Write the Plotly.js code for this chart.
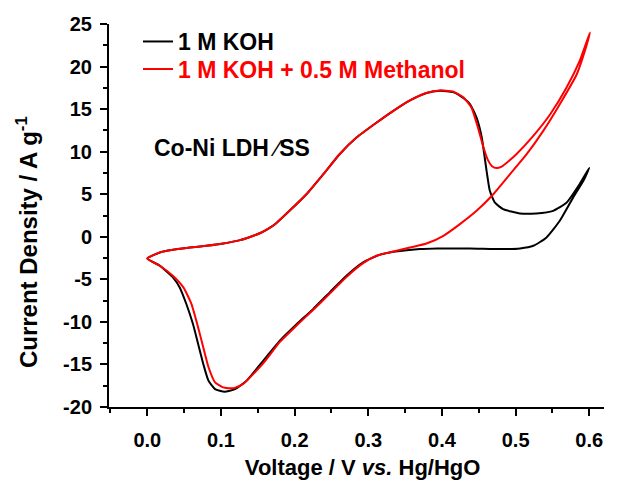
<!DOCTYPE html>
<html>
<head>
<meta charset="utf-8">
<script src="https://cdn.plot.ly/plotly-3.0.1.min.js"></script>
<style>
  html, body { margin: 0; padding: 0; background: #fff; overflow: hidden; }
  #chart { width: 622px; height: 480px; }
</style>
</head>
<body>
<div id="chart"></div>
<script>
// ---- Data ----
const seriesNames = ["1 M KOH", "1 M KOH + 0.5 M Methanol"];

// 1 M KOH : anodic sweep 0 -> 0.6 V, then cathodic sweep back to 0 V
const kohVoltage = [
  0.000, 0.017, 0.035, 0.058, 0.080, 0.103, 0.126, 0.144, 0.155, 0.165,
  0.175, 0.193, 0.216, 0.239, 0.261, 0.284, 0.311, 0.334, 0.356, 0.379,
  0.397, 0.415, 0.429, 0.438, 0.447, 0.454, 0.4606, 0.465, 0.472, 0.483,
  0.506, 0.528, 0.551, 0.569, 0.587, 0.600,
  0.592, 0.578, 0.560, 0.542, 0.524, 0.506, 0.483, 0.438, 0.393, 0.370,
  0.340, 0.329, 0.316, 0.293, 0.270, 0.248, 0.225, 0.203, 0.180, 0.157,
  0.135, 0.119, 0.105, 0.092, 0.083, 0.076, 0.069, 0.062, 0.053, 0.044,
  0.035, 0.017, 0.000
];
const kohCurrent = [
  -2.55, -1.84, -1.53, -1.26, -1.06, -0.79, -0.39, 0.12, 0.50, 0.98,
  1.60, 3.05, 5.00, 7.36, 9.70, 11.66, 13.40, 14.80, 16.00, 16.90,
  17.15, 17.00, 16.30, 15.60, 14.00, 11.70, 7.75, 5.40, 4.00, 3.25,
  2.74, 2.74, 3.05, 4.00, 6.20, 8.10,
  6.57, 4.60, 1.88, -0.08, -1.06, -1.37, -1.45, -1.37, -1.37, -1.45,
  -1.70, -1.84, -2.10, -3.00, -4.60, -6.50, -8.50, -10.25, -12.20, -14.60,
  -16.90, -17.90, -18.20, -17.90, -16.90, -14.95, -12.60, -10.25, -7.90, -5.95,
  -4.80, -3.40, -2.55
];

// 1 M KOH + 0.5 M Methanol
const meohVoltage = [
  0.000, 0.017, 0.035, 0.058, 0.080, 0.103, 0.126, 0.144, 0.155, 0.165,
  0.175, 0.193, 0.216, 0.239, 0.261, 0.284, 0.311, 0.334, 0.356, 0.379,
  0.397, 0.415, 0.429, 0.440, 0.449, 0.456, 0.462, 0.468, 0.474, 0.481,
  0.490, 0.501, 0.524, 0.547, 0.569, 0.587, 0.601,
  0.596, 0.583, 0.560, 0.5375, 0.515, 0.4925, 0.4697, 0.447, 0.4244, 0.402,
  0.379, 0.3566, 0.334, 0.311, 0.293, 0.270, 0.248, 0.225, 0.203, 0.180,
  0.157, 0.130, 0.117, 0.103, 0.092, 0.083, 0.076, 0.069, 0.060, 0.049,
  0.035, 0.017, 0.000
];
const meohCurrent = [
  -2.55, -1.84, -1.53, -1.26, -1.06, -0.79, -0.39, 0.12, 0.50, 0.98,
  1.60, 3.05, 5.00, 7.36, 9.70, 11.66, 13.40, 14.80, 16.00, 16.90,
  17.20, 17.06, 16.40, 15.20, 12.80, 10.60, 9.10, 8.30, 8.07, 8.25,
  8.85, 9.70, 11.86, 14.40, 17.50, 20.66, 24.00,
  22.40, 19.10, 15.58, 12.44, 9.70, 7.36, 5.00, 3.05, 1.49, 0.12,
  -0.79, -1.26, -1.73, -2.23, -3.10, -4.75, -6.65, -8.60, -10.40, -12.35,
  -14.90, -17.30, -17.80, -17.70, -17.10, -15.30, -13.00, -10.65, -7.90, -5.95,
  -4.60, -3.40, -2.55
];

const xTickValues = [0.0, 0.1, 0.2, 0.3, 0.4, 0.5, 0.6];
const xTickLabels = ["0.0", "0.1", "0.2", "0.3", "0.4", "0.5", "0.6"];
const yTickValues = [-20, -15, -10, -5, 0, 5, 10, 15, 20, 25];
const yTickLabels = ["-20", "-15", "-10", "-5", "0", "5", "10", "15", "20", "25"];

// ---- Styles ----
const FAM = "Liberation Sans, Arial, Helvetica, sans-serif";
const colors = ["#000000", "#ff0000"];

const traces = [
  {
    x: kohVoltage, y: kohCurrent, type: "scatter", mode: "lines",
    name: '<span style="color:#000000">' + seriesNames[0] + '</span>',
    legend: "legend",
    line: { color: colors[0], width: 2, shape: "spline", smoothing: 0.5 }
  },
  {
    x: meohVoltage, y: meohCurrent, type: "scatter", mode: "lines",
    name: '<span style="color:#ff0000">' + seriesNames[1] + '</span>',
    legend: "legend2",
    line: { color: colors[1], width: 2, shape: "spline", smoothing: 0.5 }
  }
];

const axisCommon = {
  showline: true, linecolor: "#000", linewidth: 2,
  ticks: "outside", ticklen: 7, tickwidth: 2, tickcolor: "#000",
  showgrid: false, zeroline: false, mirror: false,
  tickfont: { family: FAM, size: 20, color: "#000", weight: 700 }
};

const legendCommon = {
  xanchor: "left", yanchor: "top",
  bgcolor: "rgba(0,0,0,0)", borderwidth: 0,
  font: { family: FAM, size: 23, color: "#000", weight: 700 }
};

const layout = {
  width: 622, height: 480,
  margin: { l: 109, r: 18, t: 24, b: 73 },
  paper_bgcolor: "#fff", plot_bgcolor: "#fff",
  font: { family: FAM, color: "#000" },
  xaxis: Object.assign({}, axisCommon, {
    range: [-0.052, 0.62],
    tickvals: xTickValues, ticktext: xTickLabels,
    ticklabelstandoff: 7,
    minor: { dtick: 0.05, tick0: 0, ticks: "outside", ticklen: 4, tickwidth: 2, tickcolor: "#000", showgrid: false },
    title: { text: "&nbsp;&nbsp;Voltage / V <i>vs.</i> Hg/HgO", standoff: 16,
             font: { family: FAM, size: 22, color: "#000", weight: 700 } }
  }),
  yaxis: Object.assign({}, axisCommon, {
    range: [-20, 25],
    tickvals: yTickValues, ticktext: yTickLabels,
    ticklabelstandoff: 4,
    minor: { dtick: 2.5, tick0: 0, ticks: "outside", ticklen: 4, tickwidth: 2, tickcolor: "#000", showgrid: false },
    title: { text: "Current Density / A g<sup>-1</sup>&nbsp;&nbsp;&nbsp;&nbsp;&nbsp;&nbsp;&nbsp;&nbsp;", standoff: 19,
             font: { family: FAM, size: 24, color: "#000", weight: 700 } }
  }),
  showlegend: true,
  legend: Object.assign({}, legendCommon, { x: 0.0586, y: 1.0104 }),
  legend2: Object.assign({}, legendCommon, { x: 0.0586, y: 0.9384 }),
  annotations: [
    {
      xref: "x", yref: "y", x: 0.006, y: 10.48,
      xanchor: "left", yanchor: "middle", showarrow: false,
      text: 'Co-Ni LDH&nbsp;<span style="font-weight:normal">∕</span>SS',
      font: { family: FAM, size: 23, color: "#000", weight: 700 }
    }
  ]
};

Plotly.newPlot("chart", traces, layout, { staticPlot: true, displayModeBar: false });
</script>
</body>
</html>
